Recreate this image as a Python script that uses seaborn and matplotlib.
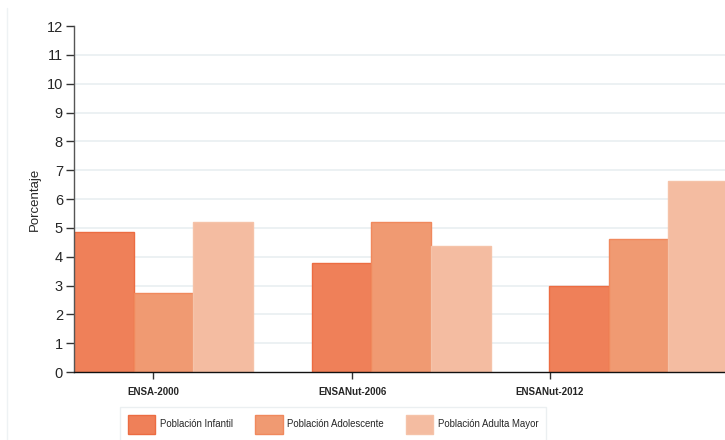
import matplotlib
matplotlib.use("Agg")
import matplotlib.pyplot as plt
import pandas as pd
import seaborn as sns
from matplotlib.lines import Line2D

# Data
encuestas = ["ENSA-2000", "ENSANut-2006", "ENSANut-2012"]
poblaciones = ["Población Infantil", "Población Adolescente", "Población Adulta Mayor"]
infantil = [4.87, 3.78, 2.98]
adolescente = [2.74, 5.20, 4.63]
adulta_mayor = [5.20, 4.37, 6.63]

colores = ["#EF8059", "#F09A72", "#F4BCA1"]
bordes = ["#EC6C42", "#F0895D", "#F5C3A9"]

df = pd.DataFrame({
    "encuesta": encuestas * 3,
    "poblacion": [p for p in poblaciones for _ in encuestas],
    "pct": infantil + adolescente + adulta_mayor,
})

sns.set_style("white")
plt.rcParams["font.family"] = ["Liberation Sans", "DejaVu Sans"]

fig = plt.figure(figsize=(7.25, 4.4), dpi=100)
ax = fig.add_axes([74 / 725, 1 - 372 / 440, 1 - 74 / 725, (372 - 26) / 440])

group_w = 0.754
sns.barplot(data=df, x="encuesta", y="pct", hue="poblacion", order=encuestas,
            hue_order=poblaciones, palette=colores, width=group_w, gap=0,
            saturation=1, legend=False, ax=ax)

for cont, ec in zip(ax.containers, bordes):
    for bar in cont:
        bar.set_edgecolor(ec)
        bar.set_linewidth(1.0)

ax.set_xlim(-group_w / 2, -group_w / 2 + 651 / 237.5)
ax.set_ylim(0, 12)
ax.set_yticks(range(0, 13))
ax.tick_params(axis="y", labelsize=10.5, length=6, width=1, color="#333333",
               direction="out", left=True, pad=2)

# category labels sit at evenly spaced ticks offset from the bar groups
ax.set_xticks([-0.044, 0.794, 1.627])
ax.set_xticklabels(encuestas, fontsize=7, fontweight="bold")
ax.tick_params(axis="x", length=5, width=1, color="#333333", bottom=True, pad=6)

ax.set_xlabel("")
ax.set_ylabel("Porcentaje", fontsize=9.5, labelpad=4)

# light gridlines from 1 to 11 only (none on the top tick)
ax.grid(False)
ax.hlines(range(1, 12), *ax.get_xlim(), colors="#EAF0F2", linewidth=1.3, zorder=0)
ax.set_axisbelow(True)

for s in ["top", "right"]:
    ax.spines[s].set_visible(False)
ax.spines["left"].set_color("#555555")
ax.spines["bottom"].set_color("#111111")
ax.spines["left"].set_linewidth(1.0)
ax.spines["bottom"].set_linewidth(1.0)

handles = [plt.Rectangle((0, 0), 1, 1, facecolor=c, edgecolor=e)
           for c, e in zip(colores, bordes)]
leg = fig.legend(handles, poblaciones, loc="upper left",
                 bbox_to_anchor=(120 / 725, 1 - 407 / 440), ncol=3,
                 fontsize=6.9, frameon=True, fancybox=False,
                 handlelength=2.9, handleheight=2.8, handletextpad=0.45,
                 columnspacing=2.3, borderpad=0.8, borderaxespad=0)
leg.get_frame().set_edgecolor("#E6ECEE")
leg.get_frame().set_linewidth(1.0)

fig.add_artist(Line2D([7 / 725, 7 / 725], [0, 1 - 8 / 440],
                      transform=fig.transFigure, color="#EEF2F4", lw=1))

fig.savefig("out.png", dpi=100)
